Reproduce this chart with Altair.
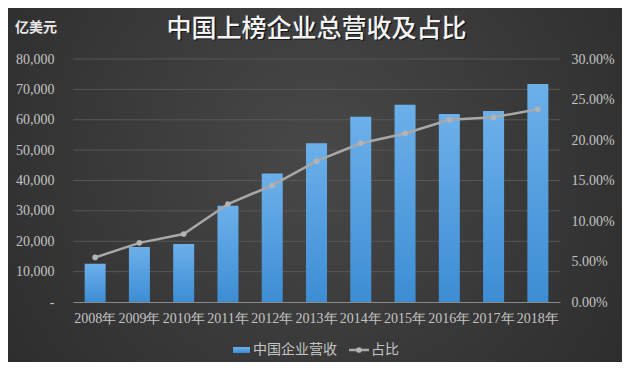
import altair as alt
import pandas as pd

years = ["2008年", "2009年", "2010年", "2011年", "2012年", "2013年",
         "2014年", "2015年", "2016年", "2017年", "2018年"]
revenue = [12600, 18100, 19100, 31700, 42300, 52300, 61000, 64900, 61900, 62900, 71800]
share = [0.055, 0.073, 0.084, 0.121, 0.144, 0.174, 0.196, 0.208, 0.225, 0.228, 0.238]
grid_values = [10000, 20000, 30000, 40000, 50000, 60000, 70000, 80000]
legend_labels = ["中国企业营收", "占比"]
title_text = "中国上榜企业总营收及占比"
unit_text = "亿美元"

df = pd.DataFrame({"year": years, "revenue": revenue, "share": share})
grid_df = pd.DataFrame({"revenue": grid_values})
one = pd.DataFrame({"k": [0]})

W, H = 487, 243
PADL, PADT = 65, 51
SVG_W, SVG_H = 614, 354

LABEL_COLOR = "#c4c4c4"
NUM_FONT = "Liberation Serif"
CJK_FONT = "Noto Sans CJK SC"
LINE_COLOR = "#a8a8a8"

bar_grad = alt.Gradient(
    gradient="linear",
    stops=[alt.GradientStop(offset=0, color="#6cb0ea"),
           alt.GradientStop(offset=1, color="#3d8dd4")],
    x1=0, x2=0, y1=0, y2=1,
)

x_enc = alt.X(
    "year:N", sort=None,
    scale=alt.Scale(paddingInner=0, paddingOuter=0),
    axis=alt.Axis(title=None, labelAngle=0, ticks=False, domain=True,
                  domainColor="#8a8a8a", domainWidth=1, grid=False,
                  labelColor=LABEL_COLOR, labelFont=NUM_FONT, labelFontSize=14,
                  labelPadding=9, zindex=1),
)

# background vignette
bg = alt.Chart(one).mark_rect(
    color=alt.Gradient(
        gradient="radial",
        stops=[alt.GradientStop(offset=0, color="#484848"),
               alt.GradientStop(offset=1, color="#272727")],
        x1=0.5, y1=0.45, x2=0.5, y2=0.45, r1=0, r2=0.75,
    )
).encode(
    x=alt.value(-PADL), x2=alt.value(SVG_W - PADL),
    y=alt.value(-PADT), y2=alt.value(SVG_H - PADT),
)

left_axis = alt.Axis(title=None, orient="left", values=[0] + grid_values, grid=False,
                     ticks=False, domain=False, labelColor=LABEL_COLOR, labelFont=NUM_FONT,
                     labelFontSize=14, labelPadding=19, zindex=1,
                     labelExpr="datum.value == 0 ? '-' : format(datum.value, ',')")
left_scale = alt.Scale(domain=[0, 80000], nice=False)

grid = alt.Chart(grid_df).mark_rule(color="#575757", strokeWidth=1).encode(
    y=alt.Y("revenue:Q", scale=left_scale, axis=left_axis),
    x=alt.value(0), x2=alt.value(W),
)

bars = alt.Chart(df).mark_bar(color=bar_grad, size=21).encode(
    x=x_enc, y=alt.Y("revenue:Q", scale=left_scale, axis=left_axis))

left_layer = alt.layer(grid, bars)

y_right = alt.Y(
    "share:Q",
    scale=alt.Scale(domain=[0, 0.30], nice=False),
    axis=alt.Axis(title=None, orient="right", values=[0, 0.05, 0.10, 0.15, 0.20, 0.25, 0.30],
                  format=".2%", grid=False, ticks=False, domain=False,
                  labelColor=LABEL_COLOR, labelFont=NUM_FONT, labelFontSize=14,
                  labelPadding=11, zindex=1),
)

line = alt.Chart(df).mark_line(color=LINE_COLOR, strokeWidth=2.5).encode(x=x_enc, y=y_right)
pts = alt.Chart(df).mark_circle(color="#b4b4b4", size=32, opacity=1).encode(x=x_enc, y=y_right)
right_layer = alt.layer(line, pts)

# title and unit
TY = -30.5
title_shadow = alt.Chart(one).mark_text(
    text=title_text, font=CJK_FONT, fontSize=25, fontWeight=500,
    color="#0a0a0a", align="center", baseline="middle", opacity=0.7,
).encode(x=alt.value(W / 2 + 1.5), y=alt.value(TY + 1.5))
title = alt.Chart(one).mark_text(
    text=title_text, font=CJK_FONT, fontSize=25, fontWeight=500,
    color="#f4f4f4", align="center", baseline="middle",
).encode(x=alt.value(W / 2), y=alt.value(TY))
unit = alt.Chart(one).mark_text(
    text=unit_text, font=CJK_FONT, fontSize=14, fontWeight="bold",
    color="#e6e6e6", align="center", baseline="middle",
).encode(x=alt.value(-37), y=alt.value(-31))

# legend
LY = 291
leg_rect = alt.Chart(one).mark_rect(color=bar_grad).encode(
    x=alt.value(160), x2=alt.value(177), y=alt.value(LY - 3), y2=alt.value(LY + 3))
leg_t1 = alt.Chart(one).mark_text(
    text=legend_labels[0], font=CJK_FONT, fontSize=14, color=LABEL_COLOR,
    align="left", baseline="middle").encode(x=alt.value(180), y=alt.value(LY))
leg_line = alt.Chart(one).mark_rule(color=LINE_COLOR, strokeWidth=2.5).encode(
    x=alt.value(276), x2=alt.value(296), y=alt.value(LY))
leg_pt = alt.Chart(one).mark_circle(color="#b4b4b4", size=32, opacity=1).encode(
    x=alt.value(286), y=alt.value(LY))
leg_t2 = alt.Chart(one).mark_text(
    text=legend_labels[1], font=CJK_FONT, fontSize=14, color=LABEL_COLOR,
    align="left", baseline="middle").encode(x=alt.value(298), y=alt.value(LY))

chart = alt.layer(
    bg, left_layer, right_layer, title_shadow, title, unit,
    leg_rect, leg_t1, leg_line, leg_pt, leg_t2,
).resolve_scale(y="independent").properties(
    width=W, height=H,
    autosize=alt.AutoSizeParams(type="none"),
    padding={"left": PADL, "top": PADT, "right": SVG_W - PADL - W, "bottom": SVG_H - PADT - H},
    background="#333333",
).configure_view(stroke=None)

chart.save("out.html", embed_options={"renderer": "svg", "actions": False})
